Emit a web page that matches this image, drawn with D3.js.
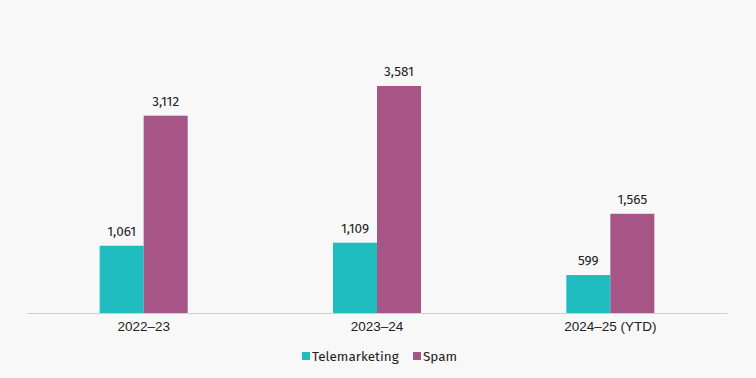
<!DOCTYPE html>
<html><head><meta charset="utf-8">
<script src="https://cdn.jsdelivr.net/npm/d3@7/dist/d3.min.js"></script>
<style>
html,body{margin:0;padding:0;background:#f8f8f8;}
svg{display:block;font-family:"Fira Sans","Noto Sans","Open Sans",sans-serif;}
</style></head>
<body><svg id="c" width="756" height="378"></svg>
<script>
const categories = ["2022\u201323", "2023\u201324", "2024\u201325 (YTD)"];
const seriesNames = ["Telemarketing", "Spam"];
const telemarketing = [1061, 1109, 599];
const spam = [3112, 3581, 1565];
const colors = ["#1fbdbf", "#a65586"];

const svg = d3.select("#c");
const left = 27, right = 727, base = 313;

const x0 = d3.scaleBand().domain(categories).range([left, right]).paddingInner(0).paddingOuter(0);
const y = d3.scaleLinear().domain([0, 4000]).range([base, base - 253.6]);
const barW = 44;
const x1 = d3.scaleBand().domain(seriesNames).range([-barW, barW]).padding(0);

const data = categories.map((c, i) => ({cat: c, vals: [telemarketing[i], spam[i]]}));

const g = svg.append("g");
const groups = g.selectAll("g.grp").data(data).join("g")
  .attr("transform", d => `translate(${x0(d.cat) + x0.bandwidth() / 2},0)`);

groups.selectAll("rect").data(d => d.vals.map((v, j) => ({v, s: seriesNames[j], j}))).join("rect")
  .attr("x", d => x1(d.s))
  .attr("width", x1.bandwidth())
  .attr("y", d => y(d.v))
  .attr("height", d => base - y(d.v))
  .attr("fill", d => colors[d.j]);

groups.selectAll("text.lbl").data(d => d.vals.map((v, j) => ({v, s: seriesNames[j]}))).join("text")
  .attr("class", "lbl")
  .attr("x", d => x1(d.s) + x1.bandwidth() / 2)
  .attr("y", d => y(d.v) - 10)
  .attr("text-anchor", "middle")
  .attr("font-size", 13.5)
  .attr("fill", "#222")
  .text(d => d3.format(",")(d.v));

// axis
const axis = d3.axisBottom(x0).tickSize(0).tickPadding(8);
const ax = svg.append("g").attr("transform", `translate(0,${base})`).call(axis);
ax.select(".domain").attr("stroke", "#cfcfcf").attr("stroke-width", 1);
ax.selectAll("text").attr("font-size", 13.5).attr("fill", "#222").attr("font-family", "inherit");

// legend
const leg = svg.append("g").attr("transform", "translate(0,356)");
const legX = [302, 413];
seriesNames.forEach((s, i) => {
  leg.append("rect").attr("x", legX[i]).attr("y", -4).attr("width", 8).attr("height", 8).attr("fill", colors[i]);
  leg.append("text").attr("x", legX[i] + 10).attr("y", 0).attr("dy", "0.35em")
    .attr("font-size", 13.5).attr("fill", "#222").text(s);
});
</script></body></html>
